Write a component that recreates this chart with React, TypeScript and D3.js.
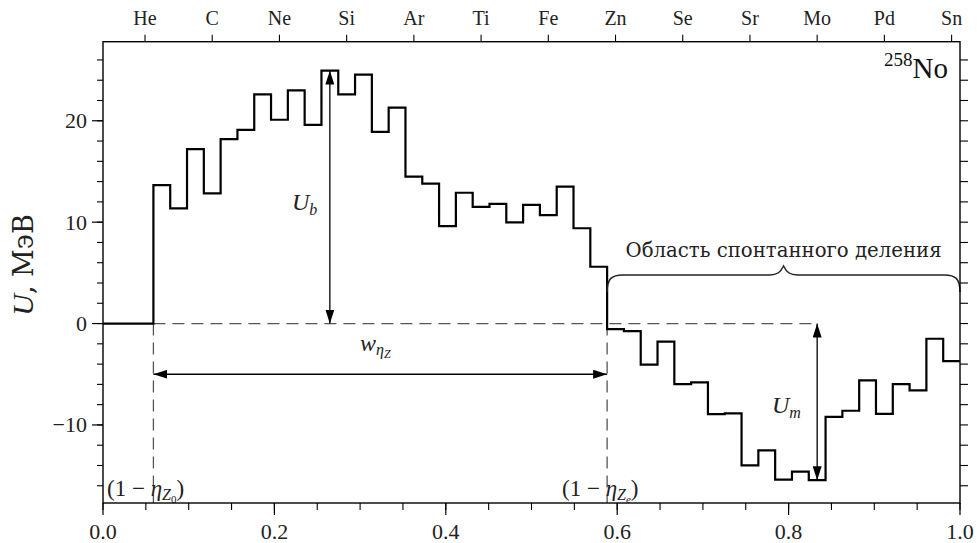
import React from "react";
import * as d3 from "d3";

// Charge number of the light fragment for each step of the potential
const charges = [3, 4, 5, 6, 7, 8, 9, 10, 11, 12, 13, 14, 15, 16, 17, 18, 19, 20, 21, 22, 23, 24, 25, 26, 27, 28, 29, 30, 31, 32, 33, 34, 35, 36, 37, 38, 39, 40, 41, 42, 43, 44, 45, 46, 47, 48, 49, 50];
// Driving potential U (MeV) for each charge
const potential = [13.66, 11.36, 17.2, 12.84, 18.2, 19.1, 22.6, 20.1, 23.0, 19.6, 24.95, 22.6, 24.55, 18.9, 21.3, 14.5, 13.8, 9.6, 12.9, 11.5, 11.8, 9.97, 11.7, 10.7, 13.5, 9.4, 5.6, -0.55, -0.75, -4.06, -1.78, -5.97, -5.8, -8.94, -8.85, -13.99, -12.5, -15.4, -14.6, -15.45, -9.2, -8.6, -5.6, -8.9, -5.97, -6.6, -1.5, -3.7];

// Element labels on the upper axis
const elements = ["He", "C", "Ne", "Si", "Ar", "Ti", "Fe", "Zn", "Se", "Sr", "Mo", "Pd", "Sn"];
const elementCharges = [2, 6, 10, 14, 18, 22, 26, 30, 34, 38, 42, 46, 50];

const xTicks = [0, 0.2, 0.4, 0.6, 0.8, 1.0];
const yTicks = [-10, 0, 10, 20];

const totalCharge = 51;
const zStart = 3; // first fragment charge, (1 - η_{Z0})
const zEnd = 30; // edge of spontaneous fission region, (1 - η_{Ze})
const zBarrier = 13; // position of barrier height arrow
const zMinimum = 42; // position of minimum depth arrow

const W = 977;
const H = 543;
const left = 103;
const right = 960;
const top = 41.7;
const bottom = 503;

const FONT = "Liberation Serif";
const CYR = "DejaVu Serif";

export default function App() {
  const x = d3.scaleLinear().domain([0, 1]).range([left, right]);
  const y = d3.scaleLinear().domain([-17.7, 27.8]).range([bottom, top]);
  const eta = (z: number) => z / totalCharge;

  const pts: [number, number][] = [[0, 0]];
  charges.forEach((z, i) => pts.push([eta(z), potential[i]]));
  pts.push([1, potential[potential.length - 1]]);
  const stepLine = d3
    .line<[number, number]>()
    .x((d) => x(d[0]))
    .y((d) => y(d[1]))
    .curve(d3.curveStepAfter);

  const minorX = d3.range(0, 1.0001, 0.05);
  const minorY = d3.range(-16, 27, 2);

  const uAt = (z: number) => potential[charges.indexOf(z)];
  const xb = x((zBarrier + 0.5) / totalCharge);
  const xm = x((zMinimum + 0.5) / totalCharge);
  const x0 = x(eta(zStart));
  const xe = x(eta(zEnd));
  const y0 = y(0);
  const yw = y(-5);

  // brace over spontaneous fission region
  const bx0 = xe;
  const bx1 = x(1);
  const bmid = (bx0 + bx1) / 2;
  const by = 275;
  const braceD = `M${bx0},${by + 17} C${bx0},${by + 4} ${bx0 + 4},${by} ${bx0 + 16},${by}
    L${bmid - 14},${by} C${bmid - 6},${by} ${bmid - 3},${by - 3} ${bmid},${by - 9}
    C${bmid + 3},${by - 3} ${bmid + 6},${by} ${bmid + 14},${by}
    L${bx1 - 16},${by} C${bx1 - 4},${by} ${bx1},${by + 4} ${bx1},${by + 17}`;

  return (
    <div style={{ position: "absolute", left: 0, top: 0 }}>
      <svg width={W} height={H} style={{ display: "block", background: "#fff" }} fontFamily={FONT}>
        <defs>
          <marker id="ah" viewBox="0 0 10 10" refX="10" refY="5" markerWidth="14" markerHeight="9" markerUnits="userSpaceOnUse" orient="auto-start-reverse" preserveAspectRatio="none">
            <path d="M0,0 L10,5 L0,10 z" fill="#000" />
          </marker>
        </defs>

        {/* zero reference and boundaries */}
        <line x1={x0} x2={xm} y1={y0} y2={y0} stroke="#555" strokeWidth={1.3} strokeDasharray="12,7" />
        <line x1={x0} x2={x0} y1={y0} y2={bottom} stroke="#555" strokeWidth={1.3} strokeDasharray="12,7" />
        <line x1={xe} x2={xe} y1={y0} y2={bottom} stroke="#555" strokeWidth={1.3} strokeDasharray="12,7" />

        {/* potential steps */}
        <path d={stepLine(pts) ?? ""} fill="none" stroke="#000" strokeWidth={2.2} />

        {/* arrows */}
        <line x1={xb} x2={xb} y1={y(uAt(zBarrier))} y2={y0} stroke="#000" strokeWidth={1.3} markerStart="url(#ah)" markerEnd="url(#ah)" />
        <line x1={xm} x2={xm} y1={y0} y2={y(uAt(zMinimum))} stroke="#000" strokeWidth={1.3} markerStart="url(#ah)" markerEnd="url(#ah)" />
        <line x1={x0} x2={xe} y1={yw} y2={yw} stroke="#000" strokeWidth={1.3} markerStart="url(#ah)" markerEnd="url(#ah)" />

        {/* annotations */}
        <text x={292} y={210} fontSize={24} fill="#222">
          <tspan fontStyle="italic">U</tspan>
          <tspan fontStyle="italic" fontSize={16} dy={5}>b</tspan>
        </text>
        <text x={772} y={413} fontSize={24} fill="#222">
          <tspan fontStyle="italic">U</tspan>
          <tspan fontStyle="italic" fontSize={16} dy={5}>m</tspan>
        </text>
        <text x={360} y={351} fontSize={24} fill="#222">
          <tspan fontStyle="italic">w</tspan>
          <tspan fontStyle="italic" fontSize={16} dy={4}>η</tspan>
          <tspan fontStyle="italic" fontSize={12} dy={3}>Z</tspan>
        </text>
        <text x={107} y={496} fontSize={23} fill="#222">
          <tspan>(1 − </tspan>
          <tspan fontStyle="italic">η</tspan>
          <tspan fontStyle="italic" fontSize={16} dy={4}>Z</tspan>
          <tspan fontSize={11} dy={3}>0</tspan>
          <tspan dy={-7}>)</tspan>
        </text>
        <text x={562} y={496} fontSize={23} fill="#222">
          <tspan>(1 − </tspan>
          <tspan fontStyle="italic">η</tspan>
          <tspan fontStyle="italic" fontSize={16} dy={4}>Z</tspan>
          <tspan fontStyle="italic" fontSize={11} dy={3}>e</tspan>
          <tspan dy={-7}>)</tspan>
        </text>
        <path d={braceD} fill="none" stroke="#222" strokeWidth={1.5} />
        <text x={bmid} y={257} fontSize={20} textAnchor="middle" fill="#222" fontFamily={CYR} textLength={316} lengthAdjust="spacingAndGlyphs">
          Область спонтанного деления
        </text>
        <text x={948} y={78} fontSize={29} textAnchor="end" fill="#111">
          <tspan fontSize={19} dy={-12}>258</tspan>
          <tspan dy={12}>No</tspan>
        </text>

        {/* frame */}
        <rect x={left} y={top} width={right - left} height={bottom - top} fill="none" stroke="#000" strokeWidth={1.4} />

        {/* bottom axis */}
        {minorX.map((v) => (
          <line key={"bx" + v} x1={x(v)} x2={x(v)} y1={bottom} y2={bottom + 7} stroke="#000" strokeWidth={1.1} />
        ))}
        {xTicks.map((v) => (
          <g key={"xt" + v}>
            <line x1={x(v)} x2={x(v)} y1={bottom} y2={bottom + 12} stroke="#000" strokeWidth={1.2} />
            <text x={x(v)} y={539} fontSize={22} textAnchor="middle" fill="#222">
              {v.toFixed(1)}
            </text>
          </g>
        ))}

        {/* upper element axis */}
        {elements.map((el, i) => {
          const px = x((elementCharges[i] + 0.5) / totalCharge);
          return (
            <g key={el}>
              <line x1={px} x2={px} y1={top} y2={top - 7} stroke="#000" strokeWidth={1.1} />
              <text x={px} y={25} fontSize={20} textAnchor="middle" fill="#222">
                {el}
              </text>
            </g>
          );
        })}

        {/* left and right axes */}
        {minorY.map((v) => (
          <g key={"my" + v}>
            <line x1={left} x2={left - 6} y1={y(v)} y2={y(v)} stroke="#000" strokeWidth={1.1} />
            <line x1={right} x2={right + 8} y1={y(v)} y2={y(v)} stroke="#000" strokeWidth={1.1} />
          </g>
        ))}
        {yTicks.map((v) => (
          <g key={"yt" + v}>
            <line x1={left} x2={left - 11} y1={y(v)} y2={y(v)} stroke="#000" strokeWidth={1.2} />
            <text x={87} y={y(v) + 7.5} fontSize={22} textAnchor="end" fill="#222">
              {v < 0 ? "−" + Math.abs(v) : v}
            </text>
          </g>
        ))}

        <text transform={`translate(33,265) rotate(-90)`} fontSize={30} textAnchor="middle" fill="#222">
          <tspan fontStyle="italic">U</tspan>
          <tspan fontFamily={CYR} fontSize={27}>, МэВ</tspan>
        </text>
      </svg>
    </div>
  );
}
